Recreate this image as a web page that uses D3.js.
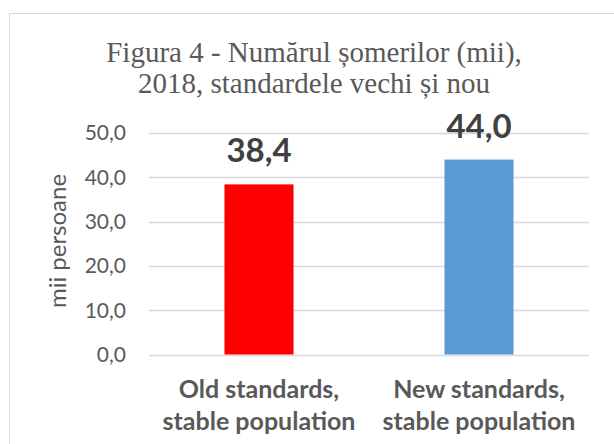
<!DOCTYPE html>
<html><head><meta charset="utf-8">
<script src="https://cdn.jsdelivr.net/npm/d3@7"></script>
<style>body{margin:0;background:#fff}svg{display:block}</style>
</head><body>
<svg id="c" width="614" height="444"></svg>
<script>
const categories = [["Old standards,", "stable population"], ["New standards,", "stable population"]];
const values = [38.4, 44.0];
const colors = ["#ff0000", "#5b9bd5"];
const yTicks = [0, 10, 20, 30, 40, 50];
const titleLines = ["Figura 4 - Numărul șomerilor (mii),", "2018, standardele vechi și nou"];
const yTitle = "mii persoane";

const svg = d3.select("#c");
const fmt = v => v.toFixed(1).replace(".", ",");
const m = {left: 149, right: 589, top: 133, bottom: 354.5};

svg.append("rect").attr("x", 9.5).attr("y", 13.5).attr("width", 620).attr("height", 450)
  .attr("fill", "#fff").attr("stroke", "#d9d9d9").attr("stroke-width", 1);

svg.append("g").selectAll("text").data(titleLines).join("text")
  .attr("x", 314).attr("y", (d, i) => 62 + i * 30.5)
  .attr("text-anchor", "middle").attr("font-family", "Liberation Serif, Times New Roman, serif")
  .attr("font-size", 29).attr("fill", "#595959").text(d => d);

const x = d3.scaleBand().domain(d3.range(values.length)).range([m.left, m.right])
  .paddingInner(0.686).paddingOuter(0.343);
const y = d3.scaleLinear().domain([0, 50]).range([m.bottom, m.top]);

svg.append("g").selectAll("line").data(yTicks).join("line")
  .attr("x1", m.left).attr("x2", m.right)
  .attr("y1", d => Math.round(y(d)) + 0.5).attr("y2", d => Math.round(y(d)) + 0.5)
  .attr("stroke", "#d9d9d9").attr("stroke-width", 1.3);

svg.append("g").selectAll("text").data(yTicks).join("text")
  .attr("x", 126).attr("y", d => y(d)).attr("dy", "0.35em")
  .attr("text-anchor", "end").attr("font-family", "Lato, sans-serif")
  .attr("font-size", 21).attr("fill", "#595959").text(d => fmt(d));

svg.append("text").attr("transform", "translate(66,241) rotate(-90)")
  .attr("text-anchor", "middle").attr("font-family", "Lato, sans-serif")
  .attr("font-size", 24).attr("fill", "#595959").text(yTitle);

svg.append("g").selectAll("rect").data(values).join("rect")
  .attr("x", (d, i) => x(i)).attr("width", x.bandwidth())
  .attr("y", d => y(d)).attr("height", d => y(0) - y(d))
  .attr("fill", (d, i) => colors[i]);

svg.append("g").selectAll("text").data(values).join("text")
  .attr("x", (d, i) => x(i) + x.bandwidth() / 2).attr("y", d => y(d) - 22)
  .attr("text-anchor", "middle").attr("font-family", "Lato, sans-serif")
  .attr("font-weight", "bold").attr("font-size", 33).attr("fill", "#404040").text(d => fmt(d));

const cat = svg.append("g").selectAll("text").data(categories).join("text")
  .attr("text-anchor", "middle").attr("font-family", "Lato, sans-serif")
  .attr("font-weight", "bold").attr("font-size", 25).attr("fill", "#595959");
cat.selectAll("tspan").data((d, i) => d.map(t => ({t, i}))).join("tspan")
  .attr("x", d => x(d.i) + x.bandwidth() / 2).attr("y", (d, j) => 398 + j * 32)
  .text(d => d.t);
</script>
</body></html>
